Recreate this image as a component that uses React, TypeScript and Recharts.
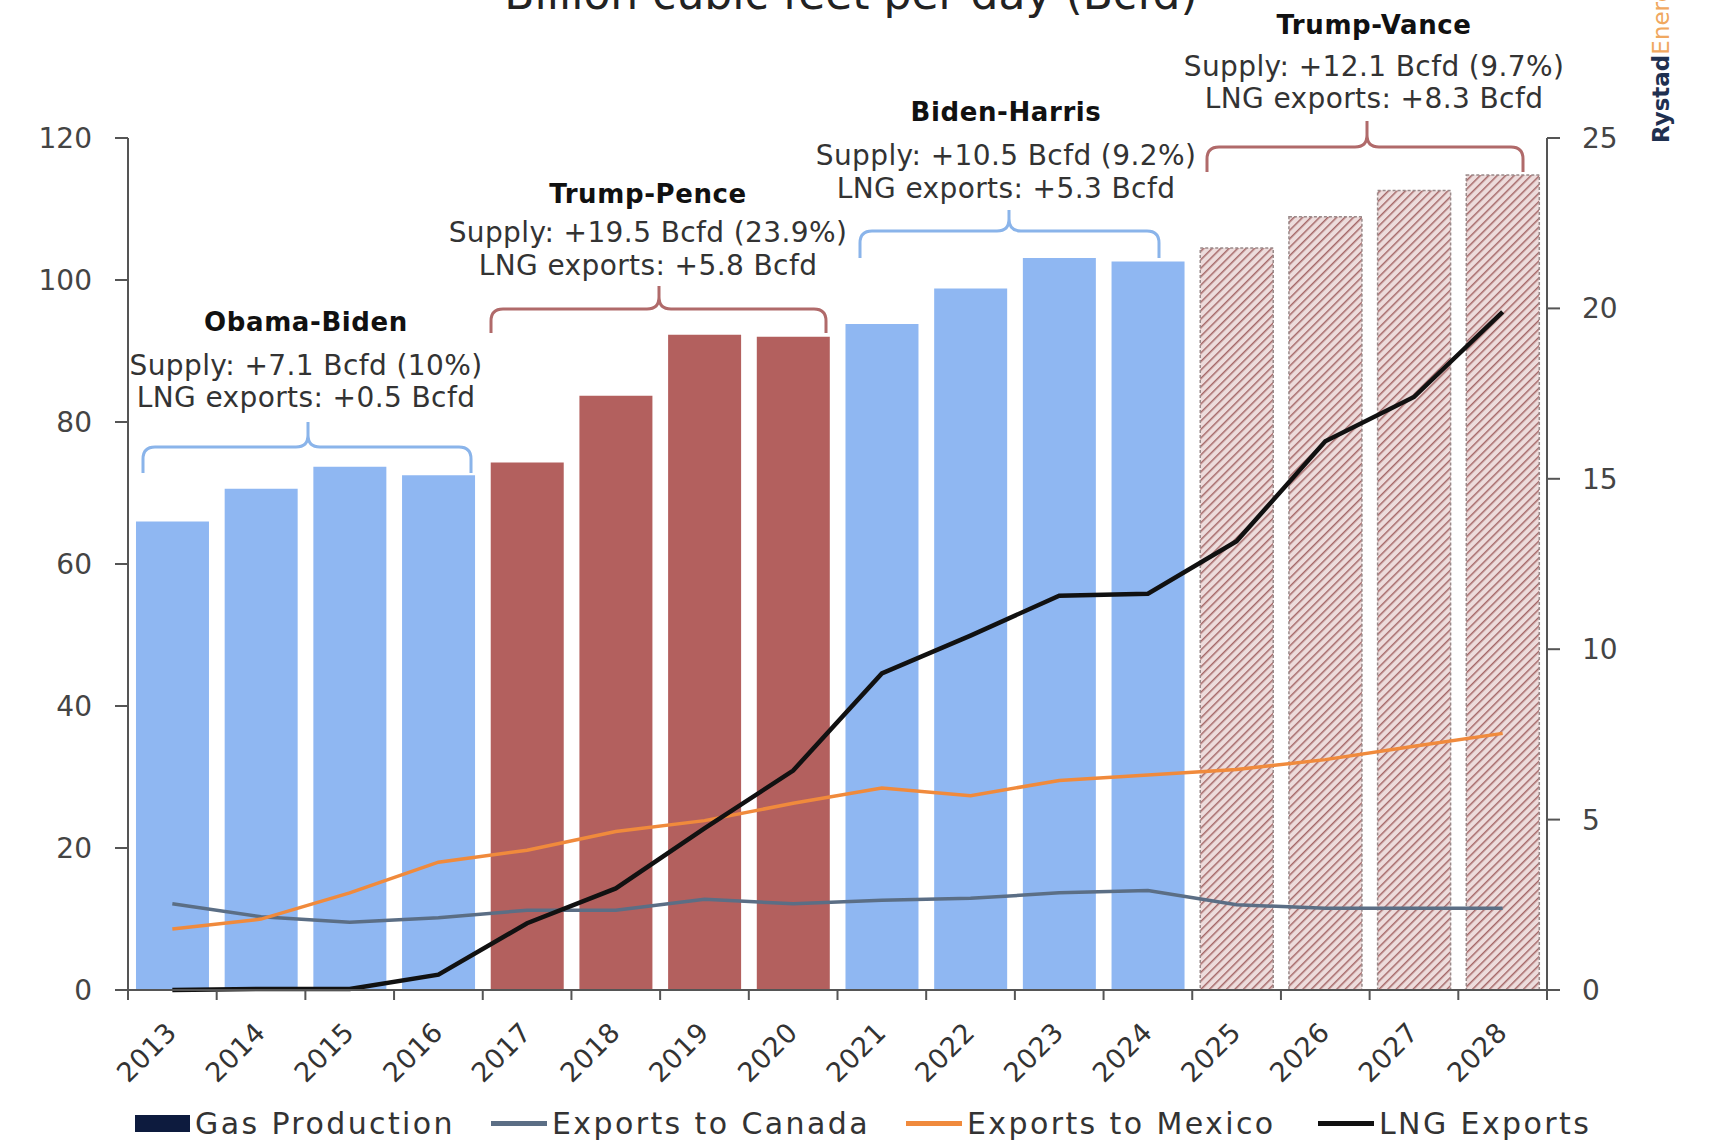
import React from 'react'
import {
  ComposedChart, Bar, Line, XAxis, YAxis, Cell,
} from 'recharts'

const YEARS = ['2013', '2014', '2015', '2016', '2017', '2018', '2019', '2020', '2021', '2022', '2023', '2024', '2025', '2026', '2027', '2028']
const TERMS = ['dem', 'dem', 'dem', 'dem', 'rep', 'rep', 'rep', 'rep', 'dem', 'dem', 'dem', 'dem', 'fcst', 'fcst', 'fcst', 'fcst']
const GAS_PRODUCTION = [66.0, 70.6, 73.7, 72.5, 74.3, 83.7, 92.3, 92.0, 93.8, 98.8, 103.1, 102.6, 104.5, 108.9, 112.6, 114.8]
const EXPORTS_CANADA = [2.53, 2.15, 1.99, 2.12, 2.34, 2.34, 2.66, 2.53, 2.63, 2.69, 2.85, 2.92, 2.5, 2.4, 2.4, 2.4]
const EXPORTS_MEXICO = [1.79, 2.08, 2.85, 3.75, 4.1, 4.65, 4.97, 5.48, 5.93, 5.7, 6.15, 6.31, 6.47, 6.76, 7.15, 7.53]
const LNG_EXPORTS = [0, 0.03, 0.03, 0.45, 1.96, 2.98, 4.74, 6.44, 9.29, 10.4, 11.57, 11.63, 13.17, 16.1, 17.4, 19.9]
const LEFT_TICKS = [0, 20, 40, 60, 80, 100, 120]
const RIGHT_TICKS = [0, 5, 10, 15, 20, 25]

const TERM_TITLES = ['Obama-Biden', 'Trump-Pence', 'Biden-Harris', 'Trump-Vance']
const TERM_SUPPLY = ['Supply: +7.1 Bcfd (10%)', 'Supply: +19.5 Bcfd (23.9%)', 'Supply: +10.5 Bcfd (9.2%)', 'Supply: +12.1 Bcfd (9.7%)']
const TERM_LNG = ['LNG exports: +0.5 Bcfd', 'LNG exports: +5.8 Bcfd', 'LNG exports: +5.3 Bcfd', 'LNG exports: +8.3 Bcfd']

const LEGEND_LABELS = ['Gas Production', 'Exports to Canada', 'Exports to Mexico', 'LNG Exports']

const data = YEARS.map((year, i) => ({
  year,
  term: TERMS[i],
  gas: GAS_PRODUCTION[i],
  canada: EXPORTS_CANADA[i],
  mexico: EXPORTS_MEXICO[i],
  lng: LNG_EXPORTS[i],
}))

const FONT = '"DejaVu Sans", sans-serif'
const BLUE = '#8fb7f2'
const RED = '#b3605e'
const PLOT_LEFT = 128
const PLOT_RIGHT = 1547
const PLOT_BOTTOM = 990
const CAT_W = (PLOT_RIGHT - PLOT_LEFT) / YEARS.length

// annotation layout (px)
const BRACKETS = [
  { x1: 143, x2: 471, xc: 308, y: 447, endY: 473, peakY: 422, color: '#8ab4ea', tx: 306, ty: [322, 365, 397] },
  { x1: 491, x2: 826, xc: 659, y: 309, endY: 333, peakY: 286, color: '#b06a6a', tx: 648, ty: [194, 232, 265] },
  { x1: 860, x2: 1159, xc: 1009, y: 231, endY: 258, peakY: 210, color: '#8ab4ea', tx: 1006, ty: [112, 155, 188] },
  { x1: 1207, x2: 1523, xc: 1367, y: 147, endY: 172, peakY: 121, color: '#b06a6a', tx: 1374, ty: [25, 66, 98] },
]

const bracketPath = (b: typeof BRACKETS[number]) => {
  const r = 12
  return `M${b.x1},${b.endY} L${b.x1},${b.y + r} Q${b.x1},${b.y} ${b.x1 + r},${b.y} L${b.xc - r},${b.y} Q${b.xc},${b.y} ${b.xc},${b.y - r} L${b.xc},${b.peakY}`
    + ` M${b.xc},${b.y - r} Q${b.xc},${b.y} ${b.xc + r},${b.y} L${b.x2 - r},${b.y} Q${b.x2},${b.y} ${b.x2},${b.y + r} L${b.x2},${b.endY}`
}

const XTick = (props: any) => {
  const { x, payload, index } = props
  const half = CAT_W / 2
  return (
    <g>
      <line x1={x - half} x2={x - half} y1={PLOT_BOTTOM} y2={PLOT_BOTTOM + 10} stroke="#555" strokeWidth={2} />
      {index === YEARS.length - 1 && (
        <line x1={x + half} x2={x + half} y1={PLOT_BOTTOM} y2={PLOT_BOTTOM + 10} stroke="#555" strokeWidth={2} />
      )}
      <text
        x={x + 6} y={PLOT_BOTTOM + 44}
        textAnchor="end"
        transform={`rotate(-45, ${x + 6}, ${PLOT_BOTTOM + 44})`}
        fontSize={27} fontFamily={FONT} fill="#333" letterSpacing={0.5}
      >
        {payload.value}
      </text>
    </g>
  )
}

const legendSwatch = (i: number) => {
  if (i === 0) return <div style={{ width: 55, height: 17, background: '#0d1b3e' }} />
  const colors = ['', '#5b6e85', '#f08a3c', '#111']
  return <div style={{ width: 56, height: 5, background: colors[i] }} />
}

const LEGEND_LEFT = [135, 491, 906, 1318]

export default function App() {
  return (
    <div style={{ position: 'absolute', left: 0, top: 0, width: 1711, height: 1140, background: '#fff', overflow: 'hidden' }}>
      <ComposedChart
        width={1711} height={1140} data={data}
        margin={{ top: 138, right: 44, bottom: 0, left: 8 }}
        barCategoryGap="9%"
      >
        <defs>
          <pattern id="hatch" width="6" height="6" patternUnits="userSpaceOnUse" patternTransform="rotate(45)">
            <rect width="6" height="6" fill="#eddcdc" />
            <line x1="0" y1="0" x2="0" y2="6" stroke="#a56868" strokeWidth="3" />
          </pattern>
        </defs>
        <XAxis
          dataKey="year" interval={0} height={150}
          tickLine={false}
          axisLine={{ stroke: '#555', strokeWidth: 2 }}
          tick={<XTick />}
        />
        <YAxis
          yAxisId="left" domain={[0, 120]} ticks={LEFT_TICKS} width={120}
          tickSize={13} tickMargin={23}
          axisLine={{ stroke: '#555', strokeWidth: 2 }}
          tickLine={{ stroke: '#555', strokeWidth: 2 }}
          tick={{ fontSize: 28, fill: '#444', fontFamily: FONT }}
        />
        <YAxis
          yAxisId="right" orientation="right" domain={[0, 25]} ticks={RIGHT_TICKS} width={120}
          tickSize={13} tickMargin={22}
          axisLine={{ stroke: '#555', strokeWidth: 2 }}
          tickLine={{ stroke: '#555', strokeWidth: 2 }}
          tick={{ fontSize: 28, fill: '#444', fontFamily: FONT }}
        />
        <Bar yAxisId="left" dataKey="gas" isAnimationActive={false}>
          {data.map(d => (
            <Cell
              key={d.year}
              fill={d.term === 'dem' ? BLUE : d.term === 'rep' ? RED : 'url(#hatch)'}
              stroke={d.term === 'fcst' ? '#9a8a8a' : 'none'}
              strokeDasharray={d.term === 'fcst' ? '3 2' : undefined}
              strokeWidth={d.term === 'fcst' ? 1.5 : 0}
            />
          ))}
        </Bar>
        <Line yAxisId="right" dataKey="canada" stroke="#5b6e85" strokeWidth={3.5} dot={false} isAnimationActive={false} />
        <Line yAxisId="right" dataKey="mexico" stroke="#f08a3c" strokeWidth={3.5} dot={false} isAnimationActive={false} />
        <Line yAxisId="right" dataKey="lng" stroke="#111" strokeWidth={4.5} dot={false} isAnimationActive={false} />
      </ComposedChart>

      <svg width={1711} height={1140} style={{ position: 'absolute', left: 0, top: 0, pointerEvents: 'none' }}>
        <text x={851} y={9} textAnchor="middle" fontSize={44} fontFamily={FONT} fill="#222">
          Billion cubic feet per day (Bcfd)
        </text>
        {BRACKETS.map((b, i) => (
          <g key={TERM_TITLES[i]}>
            <path d={bracketPath(b)} fill="none" stroke={b.color} strokeWidth={3} />
            <text x={b.tx} y={b.ty[0]} textAnchor="middle" dominantBaseline="central" fontSize={26} fontWeight="bold" letterSpacing={0.6} fontFamily={FONT} fill="#111">
              {TERM_TITLES[i]}
            </text>
            <text x={b.tx} y={b.ty[1]} textAnchor="middle" dominantBaseline="central" fontSize={28} letterSpacing={0.4} fontFamily={FONT} fill="#333">
              {TERM_SUPPLY[i]}
            </text>
            <text x={b.tx} y={b.ty[2]} textAnchor="middle" dominantBaseline="central" fontSize={28} letterSpacing={0.4} fontFamily={FONT} fill="#333">
              {TERM_LNG[i]}
            </text>
          </g>
        ))}
        <text x={1669} y={143} transform="rotate(-90, 1669, 143)" fontSize={23} fontFamily={FONT}>
          <tspan fontWeight="bold" fill="#1f3050">Rystad</tspan>
          <tspan fill="#f0a860">Energy</tspan>
        </text>
      </svg>

      {LEGEND_LABELS.map((label, i) => (
        <div
          key={label}
          style={{
            position: 'absolute', left: LEGEND_LEFT[i], top: 1104, height: 38,
            display: 'flex', alignItems: 'center', gap: 5,
            fontFamily: FONT, fontSize: 30, color: '#333', whiteSpace: 'nowrap', letterSpacing: 2.4,
          }}
        >
          {legendSwatch(i)}
          <span>{label}</span>
        </div>
      ))}
    </div>
  )
}
